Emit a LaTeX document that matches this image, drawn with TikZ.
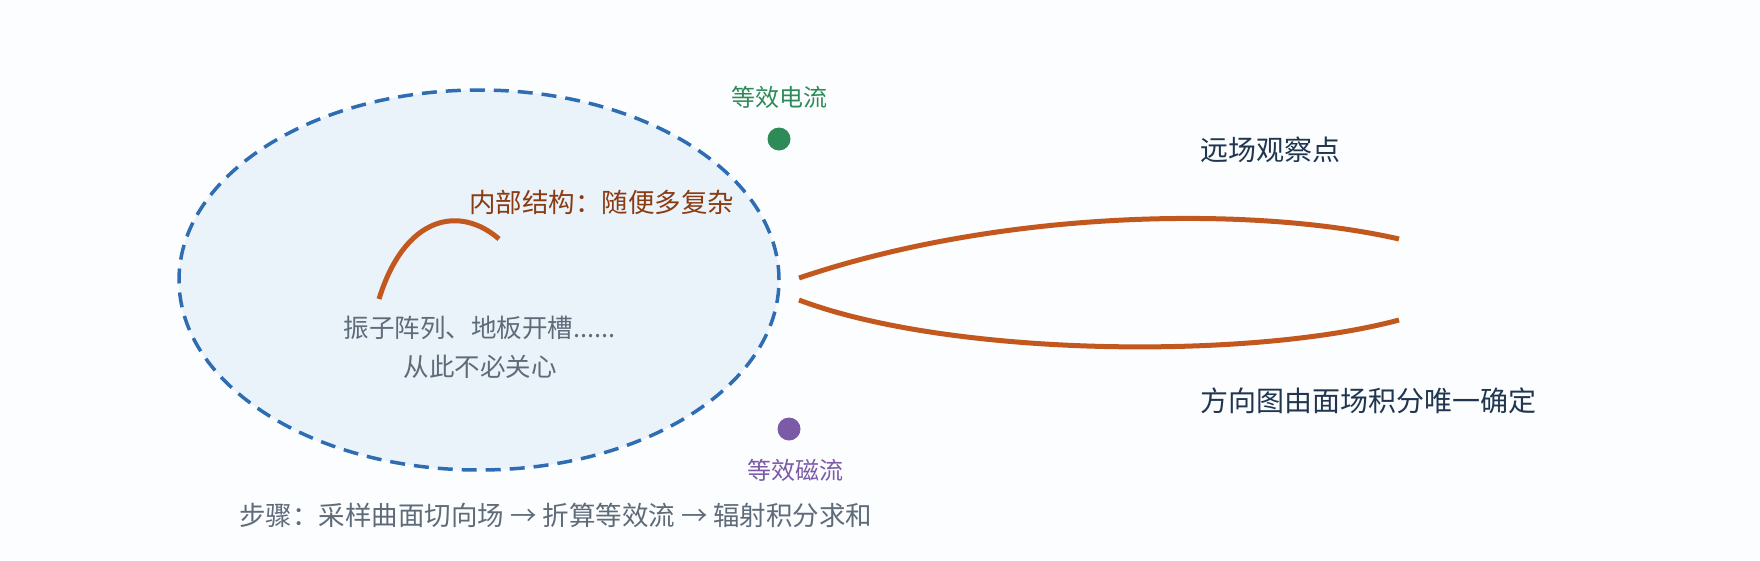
\documentclass[tikz,border=0pt]{standalone}
\usepackage{fontspec}
\setmainfont{Noto Sans CJK SC}
\definecolor{bgcol}{HTML}{FCFDFF}
\definecolor{surfblue}{HTML}{2F6DB3}
\definecolor{surffill}{HTML}{EAF2FA}
\definecolor{lobecol}{HTML}{C3581F}
\definecolor{jcol}{HTML}{2E8B57}
\definecolor{mcol}{HTML}{7B5BA8}
\definecolor{inncol}{HTML}{8A3B12}
\definecolor{greycol}{HTML}{5E6B78}
\definecolor{navycol}{HTML}{1F3550}

\begin{document}
\begin{tikzpicture}[x=1pt, y=-1pt,
  lbl/.style={inner sep=0pt, font=\fontsize{26.5}{32}\selectfont},
  biglbl/.style={lbl, anchor=west, text=navycol, font=\fontsize{28}{34}\selectfont},
  srclbl/.style={lbl, font=\fontsize{24}{28}\selectfont},
  dot/.style={circle, inner sep=0pt, minimum size=23pt},
  lobe/.style={draw=lobecol, line width=5pt}
]
\fill[bgcol] (0,0) rectangle (1760,560);
\useasboundingbox (0,0) rectangle (1760,560);
% closed surface
\draw[surfblue, fill=surffill, line width=3.5pt, dash pattern=on 15pt off 9pt]
  (479,280) ellipse [x radius=300pt, y radius=190pt];
\coordinate (a0) at (379,299);
\coordinate (a1) at (499,239);
\draw[lobe] (a0) .. controls (405,215) and (460,205) .. (a1);
\node[lbl, anchor=west, text=inncol] (inner) at (469,202) {内部结构：随便多复杂};
\node[lbl, text=greycol, align=center, font=\fontsize{25.5}{39}\selectfont] (detail) at (480,347)
  {振子阵列、地板开槽......\\从此不必关心};
% equivalent sources
\node[dot, fill=jcol] (jdot) at (779,139) {};
\node[srclbl, text=jcol] (jlbl) at (779,97) {等效电流};
\node[dot, fill=mcol] (mdot) at (789,429) {};
\node[srclbl, text=mcol] (mlbl) at (795,470) {等效磁流};
% far-field pattern
\coordinate (u0) at (799,278);
\coordinate (u1) at (1399,239);
\coordinate (d0) at (799,300);
\coordinate (d1) at (1399,320);
\draw[lobe] (u0) .. controls (1000,210) and (1250,205) .. (u1);
\draw[lobe] (d0) .. controls (950,357) and (1250,360) .. (d1);
\node[biglbl] (far) at (1200,150) {远场观察点};
\node[biglbl] (patt) at (1200,401) {方向图由面场积分唯一确定};
\node[lbl, anchor=west, text=greycol] (steps) at (239,515)
  {步骤：采样曲面切向场 → 折算等效流 → 辐射积分求和};
\end{tikzpicture}
\end{document}
